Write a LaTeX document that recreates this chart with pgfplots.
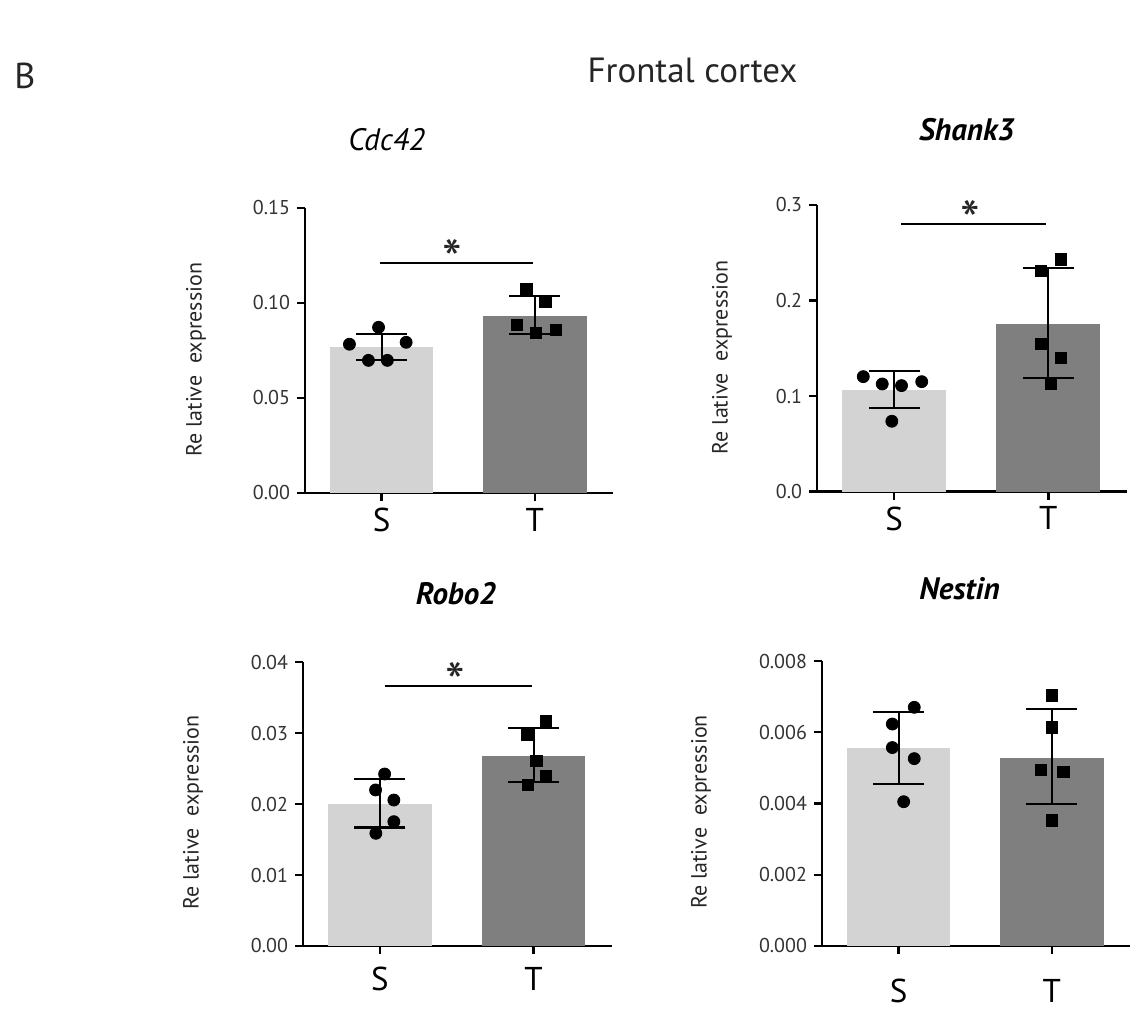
\documentclass[border=0pt]{standalone}
\usepackage{fontspec}
\setmainfont{PT Sans}
\usepackage{pgfplots}
\pgfplotsset{compat=1.18}
\definecolor{barS}{HTML}{D3D3D3}
\definecolor{barT}{HTML}{7F7F7F}
\tikzset{sigstar/.style={anchor=north, inner sep=0pt, font=\fontsize{28}{30}\selectfont, text=black!85}}
\pgfplotsset{
  panel/.style={
    scale only axis,
    axis lines=left,
    axis line style={-, line width=1.2pt, black},
    xmin=-0.5, xmax=1.51, ymin=0,
    xtick={0,1}, xticklabels={S,T},
    tick align=outside,
    major tick length=4pt,
    tick style={line width=1.2pt, black},
    xticklabel style={font=\fontsize{16.5}{18}\selectfont},
    yticklabel style={font=\fontsize{10}{12}\selectfont, text=black!80},
    scaled y ticks=false,
    /pgf/number format/assume math mode=true,
    ylabel={Re lative\ \ expression},
    ylabel style={font=\fontsize{11}{13}\selectfont, anchor=center, text=black!85},
    clip=false,
  },
  barS/.style={ybar, bar shift=0pt, bar width=0.675, fill=barS, draw=none},
  barT/.style={ybar, bar shift=0pt, bar width=0.675, fill=barT, draw=none},
  errb/.style={only marks, mark size=0pt, forget plot,
    error bars/.cd, y dir=both, y explicit,
    error bar style={black, line width=1.1pt},
    error mark options={black, mark size=12.75pt, line width=1.1pt, rotate=90}},
  dotsS/.style={only marks, mark=*, mark size=3pt, black},
  dotsT/.style={only marks, mark=square*, mark size=2.85pt, black},
  sig/.style={black, line width=1pt, mark=none},
}
\begin{document}
\begin{tikzpicture}
\useasboundingbox (0,0) rectangle (567pt,507.5pt);
\node[anchor=base, font=\fontsize{18}{20}\selectfont, text=black!85] at (12.5pt,463pt) {B};
\node[anchor=base, font=\fontsize{17.5}{20}\selectfont, text=black!85] at (346.25pt,466pt) {Frontal cortex};
\node[anchor=base, font=\fontsize{15.5}{18}\selectfont\itshape] at (193.35pt,432.2pt) {Cdc42};
\node[anchor=base, font=\fontsize{15.5}{18}\selectfont\bfseries\itshape] at (483.35pt,437.2pt) {Shank3};
\node[anchor=base, font=\fontsize{15.5}{18}\selectfont\bfseries\itshape] at (228pt,205pt) {Robo2};
\node[anchor=base, font=\fontsize{15.5}{18}\selectfont\bfseries\itshape] at (479.75pt,207.85pt) {Nestin};

% Panel 1: Cdc42
\begin{axis}[panel, at={(152.5pt,261pt)}, anchor=south west,
  width=154pt, height=142.5pt, ymax=0.15,
  ytick={0,0.05,0.1,0.15},
  yticklabel style={/pgf/number format/.cd, fixed, fixed zerofill, precision=2},
  ylabel style={at={(axis description cs:-0.354,0.467)}}]
\addplot[barS] coordinates {(0,0.0770)};
\addplot[barT] coordinates {(1,0.0934)};
\addplot[dotsS] coordinates {(-0.02,0.0872)(-0.21,0.0783)(0.16,0.0793)(-0.086,0.0698)(0.0375,0.0698)};
\addplot[dotsT] coordinates {(0.945,0.1072)(1.07,0.1009)(0.882,0.0886)(1.008,0.0844)(1.136,0.0858)};
\addplot[errb] coordinates {(0,0.0768) +- (0,0.0070) (1,0.0936) +- (0,0.0099)};
\addplot[sig] coordinates {(-0.013,0.1212)(0.987,0.1212)};
\node[sigstar] at (axis cs:0.463,0.1335) {*};
\end{axis}

% Panel 2: Shank3
\begin{axis}[panel, at={(408.5pt,261.65pt)}, anchor=south west,
  width=155pt, height=143.35pt, ymax=0.3,
  ytick={0,0.1,0.2,0.3},
  yticklabel style={/pgf/number format/.cd, fixed, fixed zerofill, precision=1},
  ylabel style={at={(axis description cs:-0.306,0.468)}}]
\addplot[barS] coordinates {(0,0.1064)};
\addplot[barT] coordinates {(1,0.1755)};
\addplot[dotsS] coordinates {(-0.20,0.1204)(-0.077,0.1127)(0.048,0.111)(0.179,0.1151)(-0.015,0.0737)};
\addplot[dotsT] coordinates {(1.08,0.2432)(0.952,0.231)(0.954,0.1545)(1.08,0.1402)(1.015,0.1127)};
\addplot[errb] coordinates {(0,0.1070) +- (0,0.0194) (1,0.1764) +- (0,0.0577)};
\addplot[sig] coordinates {(0.046,0.280)(0.987,0.280)};
\node[sigstar] at (axis cs:0.491,0.3052) {*};
\end{axis}

% Panel 3: Robo2
\begin{axis}[panel, at={(151.5pt,34.5pt)}, anchor=south west,
  width=154.5pt, height=141.85pt, ymax=0.04,
  ytick={0,0.01,0.02,0.03,0.04},
  yticklabel style={/pgf/number format/.cd, fixed, fixed zerofill, precision=2},
  xticklabel style={yshift=-3pt},
  ylabel style={at={(axis description cs:-0.356,0.47)}}]
\addplot[barS] coordinates {(0,0.0200)};
\addplot[barT] coordinates {(1,0.0268)};
\addplot[dotsS] coordinates {(0.031,0.02425)(-0.028,0.0220)(0.091,0.02058)(0.091,0.01753)(-0.026,0.01589)};
\addplot[dotsT] coordinates {(1.081,0.03172)(0.957,0.02975)(1.018,0.02613)(1.081,0.02397)(0.961,0.0227)};
\addplot[errb] coordinates {(0,0.0201) +- (0,0.0034) (1,0.0269) +- (0,0.0038)};
\addplot[sig] coordinates {(0.033,0.03666)(0.989,0.03666)};
\node[sigstar] at (axis cs:0.489,0.04009) {*};
\end{axis}

% Panel 4: Nestin
\begin{axis}[panel, at={(411pt,34.5pt)}, anchor=south west,
  width=154pt, height=142.5pt, ymax=0.008,
  ytick={0,0.002,0.004,0.006,0.008},
  yticklabel style={/pgf/number format/.cd, fixed, fixed zerofill, precision=3},
  xticklabel style={yshift=-9pt},
  ylabel style={at={(axis description cs:-0.393,0.47)}}]
\addplot[barS] coordinates {(0,0.00555)};
\addplot[barT] coordinates {(1,0.005286)};
\addplot[dotsS] coordinates {(0.102,0.0067)(-0.041,0.00623)(-0.041,0.00557)(0.102,0.00526)(0.033,0.00405)};
\addplot[dotsT] coordinates {(1.0,0.00703)(1.0,0.00614)(0.928,0.00494)(1.076,0.00489)(1.0,0.00352)};
\addplot[errb] coordinates {(0,0.00556) +- (0,0.001015) (1,0.005315) +- (0,0.001329)};
\end{axis}
\end{tikzpicture}
\end{document}
